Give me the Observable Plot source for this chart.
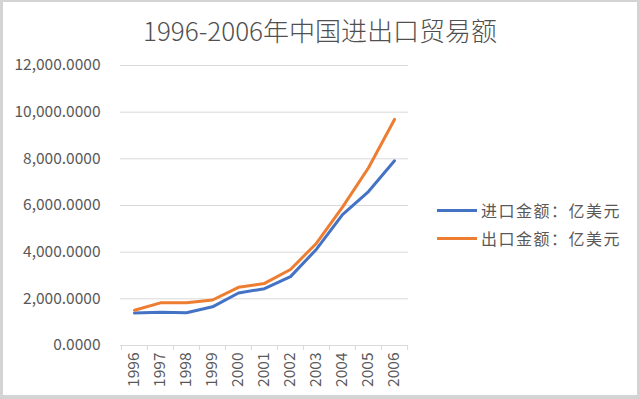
<!DOCTYPE html>
<html>
<head>
<meta charset="utf-8">
<script src="https://cdn.jsdelivr.net/npm/d3@7"></script>
<script src="https://cdn.jsdelivr.net/npm/@observablehq/plot@0.6"></script>
<style>
  html, body { margin: 0; padding: 0; background: #fff; }
  #wrap { position: relative; width: 640px; height: 399px; overflow: hidden; background: #fff;
          font-family: "Noto Sans CJK SC", "Noto Sans", sans-serif; color: #595959; }
  #frame { position: absolute; left: 0; top: 0; width: 640px; height: 399px; box-sizing: border-box;
           border-style: solid; border-color: #d4d4d4; border-width: 2px 3px 4px 3px; pointer-events: none; }
  #title { position: absolute; left: 0; top: 15px; width: 640px; text-align: center; font-size: 26px; line-height: 30px; color: #505050; font-weight: 300; }
  #chart { position: absolute; left: 0; top: 50px; }
  #legend { position: absolute; left: 437px; top: 196px; }
  .item { display: flex; align-items: center; height: 28px; font-size: 16px; letter-spacing: 1.5px; color: #595959; }
  .sw { width: 40px; height: 3px; margin-right: 4px; }
</style>
</head>
<body>
<div id="wrap">
  <div id="title">1996-2006年中国进出口贸易额</div>
  <div id="chart"></div>
  <div id="legend"></div>
  <div id="frame"></div>
</div>
<script>
const years = [1996, 1997, 1998, 1999, 2000, 2001, 2002, 2003, 2004, 2005, 2006];
const imports = [1388.3, 1423.7, 1402.4, 1657.0, 2250.9, 2435.5, 2951.7, 4127.6, 5612.3, 6599.5, 7914.6];
const exportsV = [1510.5, 1827.9, 1837.1, 1949.3, 2492.0, 2661.0, 3256.0, 4382.3, 5933.3, 7619.5, 9689.4];
const seriesNames = ["进口金额：亿美元", "出口金额：亿美元"];
const colors = ["#4472C4", "#ED7D31"];
const yTicks = [0, 2000, 4000, 6000, 8000, 10000, 12000];

const table = [];
years.forEach((y, i) => table.push({year: y, value: imports[i], series: seriesNames[0]}));
years.forEach((y, i) => table.push({year: y, value: exportsV[i], series: seriesNames[1]}));

const W = 640, H = 349, mL = 120, mR = 232, mT = 15, mB = 54;
const step = (W - mL - mR) / years.length;

const chart = Plot.plot({
  width: W, height: H,
  marginLeft: mL, marginRight: mR, marginTop: mT, marginBottom: mB,
  style: {fontFamily: "'Noto Sans CJK SC', 'Noto Sans', sans-serif", fontSize: "15px", color: "#595959", background: "transparent", overflow: "visible"},
  x: {type: "point", domain: years, padding: 0.5},
  y: {domain: [0, 12000]},
  color: {domain: seriesNames, range: colors},
  marks: [
    Plot.gridY(yTicks, {stroke: "#d9d9d9", strokeOpacity: 1, strokeWidth: 1}),
    Plot.axisY(yTicks, {tickSize: 0, tickPadding: 20, fontSize: 15.5, fill: "#595959", tickFormat: d => d3.format(",.4f")(d), label: null}),
    Plot.axisX(years, {tickSize: 0, tickRotate: -90, tickPadding: 7, fontSize: 15.5, fill: "#595959", tickFormat: d => String(d), label: null}),
    Plot.ruleX(years, {x: d => d, dx: -step / 2, y1: 0, y2: 0, insetBottom: -5, stroke: "#d9d9d9"}),
    Plot.ruleX(years.slice(-1), {x: d => d, dx: step / 2, y1: 0, y2: 0, insetBottom: -5, stroke: "#d9d9d9"}),
    Plot.lineY(table, {x: "year", y: "value", z: "series", stroke: "series", strokeWidth: 3, curve: "linear"})
  ]
});
document.getElementById("chart").appendChild(chart);

const legend = document.getElementById("legend");
seriesNames.forEach((n, i) => {
  const item = document.createElement("div");
  item.className = "item";
  const sw = document.createElement("div");
  sw.className = "sw";
  sw.style.background = colors[i];
  const t = document.createElement("span");
  t.textContent = n;
  item.appendChild(sw);
  item.appendChild(t);
  legend.appendChild(item);
});
</script>
</body>
</html>
